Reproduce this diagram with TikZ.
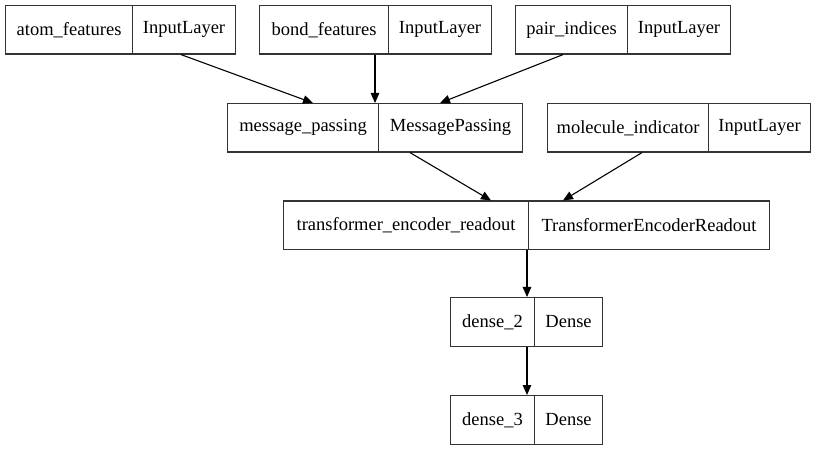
\documentclass[tikz,border=0pt]{standalone}
\usepackage{fontspec}
\setmainfont{Liberation Serif}
\usetikzlibrary{arrows.meta,positioning}
\definecolor{boxline}{HTML}{333333}
\tikzset{
  x=1pt,y=1pt,
  part/.style={draw=boxline,line width=1.1pt,inner sep=0pt,minimum height=48.5pt,anchor=north west,font=\fontsize{18.5}{20}\selectfont},
  conn/.style={line width=1.1pt,-{Triangle[length=10pt,width=8.5pt]}}
}
\begin{document}
\begin{tikzpicture}
\useasboundingbox (0,0) rectangle (817,-449);
% row 1
\node[part,minimum width=127pt] (aL) at (5,-5) {atom\_features};
\node[part,minimum width=103pt] (aR) at (132,-5) {InputLayer};
\node[part,minimum width=129pt] (bL) at (259,-5) {bond\_features};
\node[part,minimum width=103pt] (bR) at (388,-5) {InputLayer};
\node[part,minimum width=112pt] (pL) at (515,-5) {pair\_indices};
\node[part,minimum width=103pt] (pR) at (627,-5) {InputLayer};
% row 2
\node[part,minimum width=151pt] (mL) at (227,-103) {message\_passing};
\node[part,minimum width=144pt] (mR) at (378,-103) {MessagePassing};
\node[part,minimum width=161pt] (oL) at (547,-103) {molecule\_indicator};
\node[part,minimum width=102pt] (oR) at (708,-103) {InputLayer};
% row 3
\node[part,minimum width=245pt] (tL) at (283,-200.5) {transformer\_encoder\_readout};
\node[part,minimum width=241pt] (tR) at (528,-200.5) {TransformerEncoderReadout};
% row 4
\node[part,minimum width=84pt] (d2L) at (450,-297) {dense\_2};
\node[part,minimum width=68pt] (d2R) at (534,-297) {Dense};
% row 5
\node[part,minimum width=84pt] (d3L) at (450,-395) {dense\_3};
\node[part,minimum width=68pt] (d3R) at (534,-395) {Dense};
% connectors
\draw[conn] ([xshift=49pt]aR.south west) -- ([xshift=86pt]mL.north west);
\draw[conn] ([xshift=116pt]bL.south west) -- ([xshift=148pt]mL.north west);
\draw[conn] ([xshift=48pt]pL.south west) -- ([xshift=62pt]mR.north west);
\draw[conn] ([xshift=32pt]mR.south west) -- ([xshift=208pt]tL.north west);
\draw[conn] ([xshift=95pt]oL.south west) -- ([xshift=35pt]tR.north west);
\draw[conn] ([xshift=-1pt]tR.south west) -- ([xshift=-7pt]d2R.north west);
\draw[conn] ([xshift=-7pt]d2R.south west) -- ([xshift=-7pt]d3R.north west);
\end{tikzpicture}
\end{document}
